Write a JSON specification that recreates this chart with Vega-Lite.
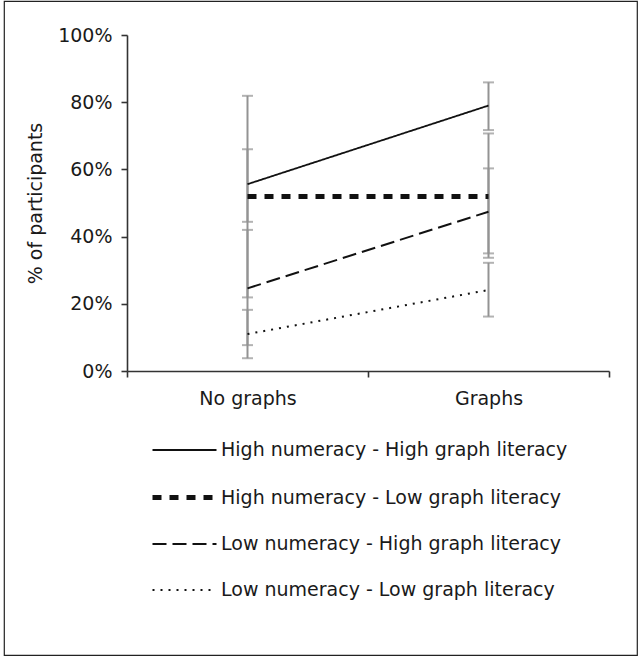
{
  "$schema": "https://vega.github.io/schema/vega-lite/v6.json",
  "width": 633,
  "height": 654,
  "autosize": {"type": "none"},
  "padding": {"left": 4, "top": 1, "right": 3, "bottom": 2},
  "background": "white",
  "config": {
    "view": {"stroke": "#222222", "strokeWidth": 1.2},
    "font": "DejaVu Sans",
    "axis": {
      "labelFont": "DejaVu Sans",
      "labelFontSize": 19,
      "labelColor": "#1a1a1a",
      "titleFont": "DejaVu Sans",
      "titleFontSize": 19,
      "titleFontWeight": "normal",
      "titleColor": "#1a1a1a",
      "domainColor": "#333333",
      "domainWidth": 1.6,
      "tickColor": "#333333",
      "tickWidth": 1.6,
      "tickSize": 6,
      "grid": false
    },
    "legend": {
      "orient": "none",
      "legendX": 146,
      "legendY": 416,
      "direction": "vertical",
      "symbolType": "stroke",
      "symbolSize": 4096,
      "symbolStrokeColor": "#111111",
      "labelFont": "DejaVu Sans",
      "labelFontSize": 19,
      "labelColor": "#1a1a1a",
      "labelOffset": 2,
      "labelLimit": 0,
      "rowPadding": 3,
      "padding": 0
    }
  },
  "data": {
    "values": [
      {"group": "High numeracy - High graph literacy", "condition": "No graphs", "value": 55.6, "lo": 44.4, "hi": 66.0},
      {"group": "High numeracy - High graph literacy", "condition": "Graphs", "value": 79.0, "lo": 71.7, "hi": 85.9},
      {"group": "High numeracy - Low graph literacy", "condition": "No graphs", "value": 51.9, "lo": 21.9, "hi": 81.9},
      {"group": "High numeracy - Low graph literacy", "condition": "Graphs", "value": 51.9, "lo": 33.7, "hi": 70.7},
      {"group": "Low numeracy - High graph literacy", "condition": "No graphs", "value": 24.6, "lo": 7.7, "hi": 42.0},
      {"group": "Low numeracy - High graph literacy", "condition": "Graphs", "value": 47.4, "lo": 35.0, "hi": 60.3},
      {"group": "Low numeracy - Low graph literacy", "condition": "No graphs", "value": 11.0, "lo": 3.8, "hi": 18.2},
      {"group": "Low numeracy - Low graph literacy", "condition": "Graphs", "value": 24.1, "lo": 16.2, "hi": 32.2}
    ]
  },
  "encoding": {
    "x": {
      "field": "condition",
      "type": "nominal",
      "sort": ["No graphs", "Graphs"],
      "scale": {"range": [123, 605], "paddingInner": 0, "paddingOuter": 0},
      "axis": {
        "title": null,
        "labelAngle": 0,
        "offset": -284,
        "tickBand": "extent",
        "labelPadding": 12
      }
    }
  },
  "layer": [
    {
      "mark": {"type": "rule", "color": "#939393", "strokeWidth": 2},
      "encoding": {
        "y": {
          "field": "lo",
          "type": "quantitative",
          "scale": {"domain": [0, 100], "range": [370, 34], "nice": false, "zero": true},
          "axis": {
            "title": "% of participants",
            "values": [0, 20, 40, 60, 80, 100],
            "labelExpr": "datum.value + '%'",
            "offset": -123,
            "labelPadding": 9,
            "titleAngle": 270,
            "titleX": -92,
            "titleY": 202,
            "titleAlign": "center",
            "titleBaseline": "middle"
          }
        },
        "y2": {"field": "hi"}
      }
    },
    {
      "mark": {"type": "tick", "color": "#939393", "thickness": 2, "size": 11, "orient": "horizontal"},
      "encoding": {
        "y": {"field": "lo", "type": "quantitative", "title": "% of participants"}
      }
    },
    {
      "mark": {"type": "tick", "color": "#939393", "thickness": 2, "size": 11, "orient": "horizontal"},
      "encoding": {
        "y": {"field": "hi", "type": "quantitative", "title": "% of participants"}
      }
    },
    {
      "mark": {"type": "line", "color": "#111111"},
      "encoding": {
        "y": {"field": "value", "type": "quantitative", "title": "% of participants"},
        "strokeDash": {
          "field": "group",
          "type": "nominal",
          "title": null,
          "scale": {
            "domain": ["High numeracy - High graph literacy", "High numeracy - Low graph literacy", "Low numeracy - High graph literacy", "Low numeracy - Low graph literacy"],
            "range": [[1, 0], [9, 8], [14, 6], [2, 6]]
          }
        },
        "strokeWidth": {
          "field": "group",
          "type": "nominal",
          "title": null,
          "scale": {
            "type": "ordinal",
            "domain": ["High numeracy - High graph literacy", "High numeracy - Low graph literacy", "Low numeracy - High graph literacy", "Low numeracy - Low graph literacy"],
            "range": [1.8, 5, 2, 2]
          }
        }
      }
    }
  ]
}
